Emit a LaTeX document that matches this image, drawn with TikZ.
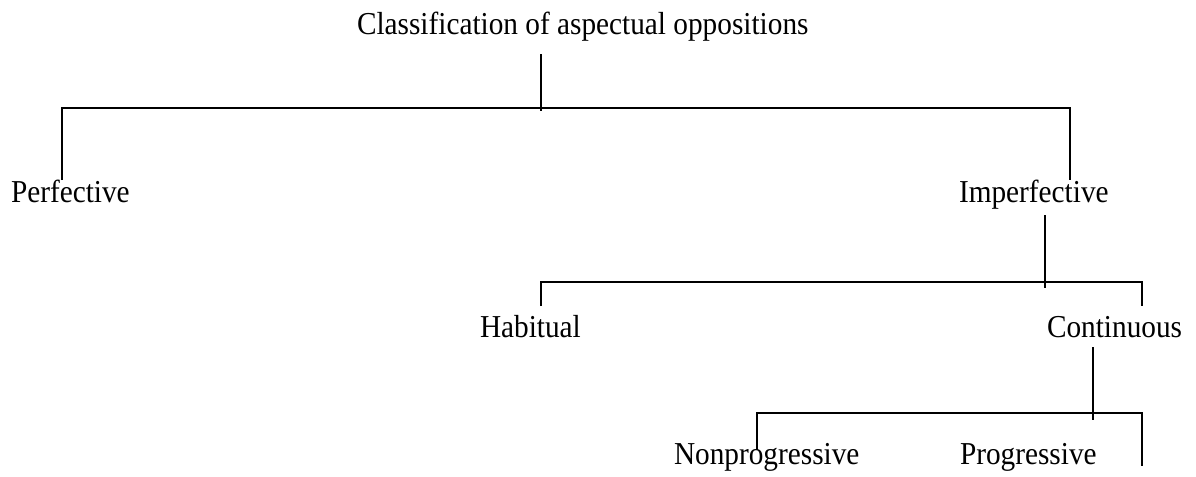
\documentclass[tikz,border=0pt]{standalone}
\usepackage{fontspec}
\setmainfont{Liberation Serif}
\usepackage{tikz}
\usetikzlibrary{calc}

\begin{document}
\begin{tikzpicture}[x=0.5pt, y=-0.5pt, line width=1pt]

	\useasboundingbox (0,0) rectangle (1196,477);
	\fontsize{14.5}{17}\selectfont
	\tikzset{term/.style={anchor=base west, inner sep=0pt, transform shape, xscale=1.01, yscale=1.1}}

	\node[term] (Class) at (356,34) {Classification of aspectual oppositions};
	\node[term] (Perf) at (10,202) {Perfective};
	\node[term] (Imperf) at (958,202) {Imperfective};
	\node[term] (Hab) at (479,337) {Habitual};
	\node[term] (Cont) at (1046,337) {Continuous};
	\node[term] (Nonprog) at (673,464) {Nonprogressive};
	\node[term] (Prog) at (959,464) {Progressive};

	% first split
	\coordinate (S1) at (541,54);
	\coordinate (S1b) at (541,111);
	\coordinate (A1) at (62,180);
	\coordinate (A1t) at (62,108);
	\coordinate (B1t) at (1070,108);
	\coordinate (B1) at (1070,180);
	\draw (S1) -- (S1b);
	\draw (A1) -- (A1t) -- (B1t) -- (B1);

	% second split
	\coordinate (S2) at (1045,215);
	\coordinate (S2b) at (1045,288);
	\coordinate (A2) at (541,306);
	\coordinate (A2t) at (541,282);
	\coordinate (B2t) at (1142,282);
	\coordinate (B2) at (1142,306);
	\draw (S2) -- (S2b);
	\draw (A2) -- (A2t) -- (B2t) -- (B2);

	% third split
	\coordinate (S3) at (1093,347);
	\coordinate (S3b) at (1093,420);
	\coordinate (A3) at (757,450);
	\coordinate (A3t) at (757,413);
	\coordinate (B3t) at (1142,413);
	\coordinate (B3) at (1142,466);
	\draw (S3) -- (S3b);
	\draw (A3) -- (A3t) -- (B3t) -- (B3);

\end{tikzpicture}
\end{document}
